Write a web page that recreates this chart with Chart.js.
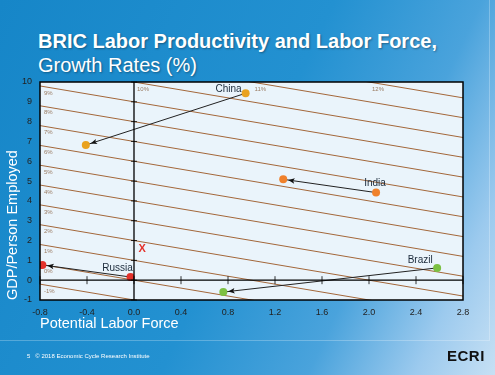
<!DOCTYPE html>
<html>
<head>
<meta charset="utf-8">
<script src="https://cdn.jsdelivr.net/npm/chart.js"></script>
<style>
  body { margin: 0; }
  #slide {
    position: relative; width: 495px; height: 375px; overflow: hidden;
    background: linear-gradient(115deg, #1686c8 0%, #2391d1 50%, #4aa3dc 72%, #9ccaee 88%, #c6e0f4 100%);
    font-family: "Liberation Sans", Arial, sans-serif;
  }
  .t { position: absolute; color: #fff; white-space: nowrap; text-shadow: 1px 1px 2px rgba(0,0,0,0.35); }
  #t1 { left: 38px; top: 30px; font-size: 20px; font-weight: bold; }
  #t2 { left: 38px; top: 54px; font-size: 20px; }
  #foot { position: absolute; left: 27px; top: 353px; font-size: 6px; color: #fff; }
  #ecri { position: absolute; left: 447px; top: 347px; font-size: 15px; font-weight: bold; color: #111; letter-spacing: 0.5px; }
  #sepH { position: absolute; left: 0; top: 340px; width: 490px; height: 1px; background: rgba(255,255,255,0.25); }
  #sepV { position: absolute; left: 489px; top: 0; width: 1px; height: 340px; background: rgba(255,255,255,0.25); }
  canvas { position: absolute; left: 0; top: 0; }
</style>
</head>
<body>
<div id="slide">
  <div id="sepH"></div><div id="sepV"></div>
  <div class="t" id="t1">BRIC Labor Productivity and Labor Force,</div>
  <div class="t" id="t2">Growth Rates (%)</div>
  <canvas id="chart" width="495" height="375"></canvas>
  <div id="foot">5&nbsp;&nbsp;&nbsp;© 2018 Economic Cycle Research Institute</div>
  <div id="ecri">ECRI</div>
</div>
<script>
// GDP growth isolines: labor force + productivity = level
const isoLevels = [-1, 0, 1, 2, 3, 4, 5, 6, 7, 8, 9, 10, 11, 12];

const countries = ['China', 'India', 'Brazil', 'Russia'];
const oldX = [0.95, 2.06, 2.58, -0.03];
const oldY = [9.43, 4.42, 0.62, 0.16];
const newX = [-0.41, 1.27, 0.76, -0.78];
const newY = [6.82, 5.09, -0.6, 0.77];
const dotColors = ['#e9a21f', '#f0812b', '#7cc143', '#e4322b'];

const markX = [0.07];
const markY = [1.57];

const xTicks = [-0.8, -0.4, 0, 0.4, 0.8, 1.2, 1.6, 2.0, 2.4, 2.8];
const xMin = -0.8, xMax = 2.8, yMin = -1, yMax = 10;

const isoSets = isoLevels.map(c => ({
  type: 'line',
  data: [{x: xMin, y: c - xMin}, {x: xMax, y: c - xMax}],
  borderColor: '#a3673a',
  borderWidth: 1,
  pointRadius: 0,
  order: 10
}));

const arrowSets = countries.map((n, i) => ({
  type: 'line',
  data: [{x: oldX[i], y: oldY[i]}, {x: newX[i], y: newY[i]}],
  borderColor: '#222',
  borderWidth: 1,
  pointRadius: 0,
  order: 5
}));

const dotSet = {
  type: 'scatter',
  data: countries.map((n, i) => ({x: oldX[i], y: oldY[i]})).concat(countries.map((n, i) => ({x: newX[i], y: newY[i]}))),
  pointBackgroundColor: dotColors.concat(dotColors),
  pointBorderWidth: 0,
  pointRadius: 4,
  order: 1
};

// label offsets (px) relative to the older dot
const labelPos = {
  China: {dx: -4, dy: -4, align: 'right'},
  India: {dx: -1, dy: -9, align: 'center'},
  Brazil: {dx: -17, dy: -8, align: 'center'},
  Russia: {dx: -13, dy: -9, align: 'center'}
};

const decor = {
  id: 'decor',
  beforeDatasetsDraw(chart) {
    const {ctx, chartArea: a} = chart;
    ctx.save();
    ctx.fillStyle = '#eaf4fb';
    ctx.fillRect(a.left, a.top, a.right - a.left, a.bottom - a.top);
    ctx.restore();
  },
  afterDatasetsDraw(chart) {
    const {ctx, chartArea: a, scales: {x, y}} = chart;
    ctx.save();
    // cross axes through zero
    const x0 = x.getPixelForValue(0), y0 = y.getPixelForValue(0);
    ctx.strokeStyle = '#000';
    ctx.lineWidth = 1.3;
    ctx.beginPath();
    ctx.moveTo(x0, a.top); ctx.lineTo(x0, a.bottom);
    ctx.moveTo(a.left, y0); ctx.lineTo(a.right, y0);
    ctx.stroke();
    ctx.lineWidth = 0.8;
    ctx.beginPath();
    x.ticks.forEach(t => {
      const px = x.getPixelForValue(t.value);
      ctx.moveTo(px, y0 - 4); ctx.lineTo(px, y0 + 4);
    });
    y.ticks.forEach(t => {
      const py = y.getPixelForValue(t.value);
      ctx.moveTo(x0 - 3, py); ctx.lineTo(x0 + 3, py);
    });
    ctx.stroke();

    // isoline labels
    ctx.font = '6px "Liberation Sans", Arial, sans-serif';
    ctx.fillStyle = '#9a7b62';
    ctx.textBaseline = 'middle';
    ctx.textAlign = 'left';
    isoLevels.forEach(c => {
      const yl = c - xMin;
      if (yl <= yMax) {
        ctx.fillText(c + '%', a.left + 4, y.getPixelForValue(yl) + 7);
      } else {
        ctx.fillText(c + '%', x.getPixelForValue(c - yMax) + 3, a.top + 7);
      }
    });

    // arrowheads (filled)
    ctx.fillStyle = '#111';
    countries.forEach((n, i) => {
      const p0x = x.getPixelForValue(oldX[i]), p0y = y.getPixelForValue(oldY[i]);
      const p1x = x.getPixelForValue(newX[i]), p1y = y.getPixelForValue(newY[i]);
      const ang = Math.atan2(p1y - p0y, p1x - p0x);
      const tx = p1x - Math.cos(ang) * 5, ty = p1y - Math.sin(ang) * 5;
      ctx.beginPath();
      ctx.moveTo(tx, ty);
      ctx.lineTo(tx - Math.cos(ang - 0.4) * 7, ty - Math.sin(ang - 0.4) * 7);
      ctx.lineTo(tx - Math.cos(ang) * 5, ty - Math.sin(ang) * 5);
      ctx.lineTo(tx - Math.cos(ang + 0.4) * 7, ty - Math.sin(ang + 0.4) * 7);
      ctx.closePath();
      ctx.fill();
    });
    ctx.restore();
  },
  afterDraw(chart) {
    const {ctx, chartArea: a, scales: {x, y}} = chart;
    ctx.save();
    ctx.strokeStyle = '#000';
    ctx.lineWidth = 1.5;
    ctx.strokeRect(a.left, a.top, a.right - a.left, a.bottom - a.top);

    // country names
    ctx.font = '10px "Liberation Sans", Arial, sans-serif';
    ctx.fillStyle = '#1b2a3a';
    ctx.textBaseline = 'middle';
    countries.forEach((n, i) => {
      const p = labelPos[n];
      ctx.textAlign = p.align;
      ctx.fillText(n, x.getPixelForValue(oldX[i]) + p.dx, y.getPixelForValue(oldY[i]) + p.dy);
    });

    // red X marker
    ctx.font = 'bold 11px "Liberation Sans", Arial, sans-serif';
    ctx.fillStyle = '#e4322b';
    ctx.textAlign = 'center';
    markX.forEach((mx, i) => ctx.fillText('X', x.getPixelForValue(mx), y.getPixelForValue(markY[i])));
    ctx.restore();
  }
};

new Chart(document.getElementById('chart'), {
  data: { datasets: isoSets.concat(arrowSets, [dotSet]) },
  options: {
    responsive: false,
    animation: false,
    devicePixelRatio: 1,
    layout: { padding: { top: 82, right: 32, left: 0, bottom: 0 } },
    plugins: { legend: { display: false }, tooltip: { enabled: false } },
    scales: {
      x: {
        type: 'linear', min: xMin, max: xMax,
        afterFit: s => { s.height = 75; },
        afterBuildTicks: s => { s.ticks = xTicks.map(v => ({value: v})); },
        grid: { display: false, drawTicks: false },
        border: { display: false },
        ticks: {
          padding: 7, color: '#222',
          font: { family: '"Liberation Sans", Arial, sans-serif', size: 9 },
          callback: v => (Math.abs(v) < 1e-9 ? 0 : v).toFixed(1)
        },
        title: {
          display: true, text: 'Potential Labor Force', align: 'start', color: '#fff',
          font: { family: '"Liberation Sans", Arial, sans-serif', size: 14.5 },
          padding: { top: 0, bottom: 42 }
        }
      },
      y: {
        type: 'linear', min: yMin, max: yMax,
        afterFit: s => { s.width = 40; },
        grid: { display: false, drawTicks: false },
        border: { display: false },
        ticks: {
          stepSize: 1, padding: 8, color: '#222',
          font: { family: '"Liberation Sans", Arial, sans-serif', size: 9 }
        },
        title: {
          display: true, text: 'GDP/Person Employed', align: 'start', color: '#fff',
          font: { family: '"Liberation Sans", Arial, sans-serif', size: 14.5 },
          padding: { top: 4, bottom: 0 }
        }
      }
    }
  },
  plugins: [decor]
});
</script>
</body>
</html>
